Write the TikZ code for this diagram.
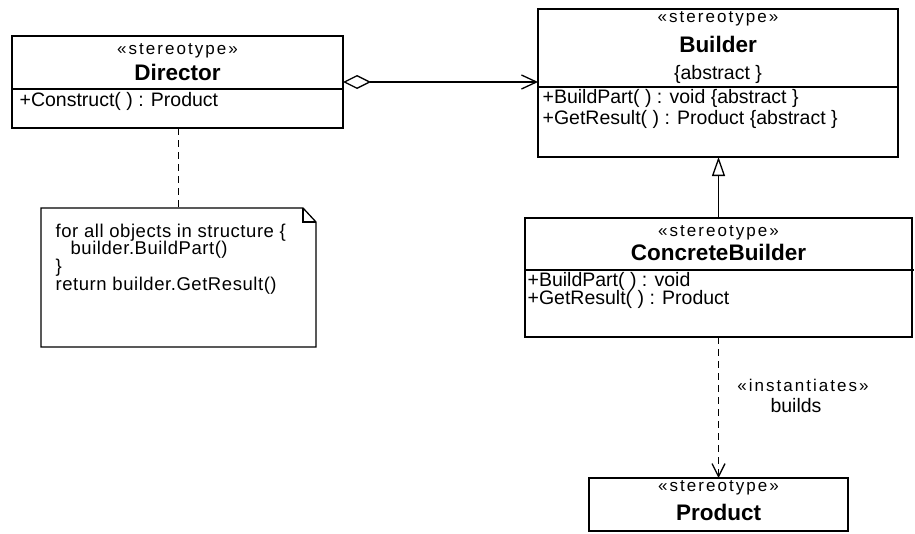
\documentclass[tikz,border=0pt]{standalone}
\usepackage{fontspec}
\setmainfont{Liberation Sans}
\usetikzlibrary{arrows.meta}
\begin{document}
\begin{tikzpicture}[x=1pt,y=-1pt,
  line width=1.3pt,
  box/.style={draw, anchor=north west, inner sep=0, outer sep=0},
  area/.style={draw=none, anchor=north west, inner sep=0, outer sep=0},
  stereo/.style={inner sep=0, text height=12pt, text depth=3pt,
    font=\fontsize{17}{18}\selectfont\addfontfeature{LetterSpace=12}},
  cname/.style={inner sep=0, text height=15pt, text depth=1pt,
    font=\fontsize{22.5}{24}\selectfont\bfseries},
  member/.style={inner sep=0, anchor=west, text height=13pt, text depth=3pt,
    font=\fontsize{19.5}{21}\selectfont},
  notetext/.style={member, font=\fontsize{18.5}{20}\selectfont\addfontfeature{LetterSpace=3}},
  plain/.style={member, anchor=center},
  depline/.style={dash pattern=on 7pt off 5pt},
  barb/.style={-{Straight Barb[length=13pt,width=13pt]}},
]
\path[use as bounding box] (0,0) rectangle (915,533);

% class boxes
\node[box, minimum width=331, minimum height=92] (director) at (12,36) {};
\node[box, minimum width=360, minimum height=148] (builder) at (538,9) {};
\node[box, minimum width=387, minimum height=119] (cbuilder) at (525,218) {};
\node[box, minimum width=259, minimum height=53] (product) at (589,478) {};

% compartment dividers
\draw (director.west |- 0,89) -- (director.east |- 0,89);
\draw (builder.west |- 0,87) -- (builder.east |- 0,87);
\draw (cbuilder.west |- 0,270) -- ([xshift=2pt]cbuilder.east |- 0,270);

% note with folded corner
\node[area, minimum width=275, minimum height=139] (note) at (41,208) {};
\draw (note.north west) -- ([xshift=-13pt]note.north east)
      -- ([yshift=-14pt]note.north east) -- (note.south east)
      -- (note.south west) -- cycle;
\draw ([xshift=-13pt]note.north east) -- ([xshift=-13pt,yshift=-14pt]note.north east)
      -- ([yshift=-14pt]note.north east);

% Director
\node[stereo] (dir-st) at (177.5,50) {«stereotype»};
\node[cname] (dir-name) at (177.5,73) {Director};
\node[member] (dir-op) at (19,101) {+Construct( ) : Product};

% Builder
\node[stereo] (bld-st) at (718,18) {«stereotype»};
\node[cname] (bld-name) at (718,45) {Builder};
\node[plain] (bld-abs) at (718,74) {\{abstract \}};
\node[member] (bld-op1) at (542,98) {+BuildPart( ) : void \{abstract \}};
\node[member] (bld-op2) at (542,119) {+GetResult( ) : Product \{abstract \}};

% ConcreteBuilder
\node[stereo] (cb-st) at (718.5,232) {«stereotype»};
\node[cname] (cb-name) at (718.5,253) {ConcreteBuilder};
\node[member] (cb-op1) at (527,281) {+BuildPart( ) : void};
\node[member] (cb-op2) at (527,299) {+GetResult( ) : Product};

% Product
\node[stereo] (prd-st) at (718.5,487) {«stereotype»};
\node[cname] (prd-name) at (718.5,513) {Product};

% note text
\node[notetext] (n1) at (55,232) {for all objects in structure \{};
\node[notetext] (n2) at (70,249.7) {builder.BuildPart()};
\node[notetext] (n3) at (55,267.4) {\}};
\node[notetext] (n4) at (55,285.1) {return builder.GetResult()};

% dependency labels
\node[stereo] (dep-st) at (803,387) {«instantiates»};
\node[plain] (dep-lbl) at (796,407) {builds};

% connectors
\draw[{Diamond[open,length=28pt,width=14pt]}-{Straight Barb[length=15pt,width=14pt]}]
  (director.east) -- (builder.west |- director.east);
\draw[depline] (director.south -| note.north) -- (note.north);
\draw[-{Triangle[open,length=19pt,width=13pt]}] (cbuilder.north) -- (cbuilder.north |- builder.south);
\draw[depline, barb] (cbuilder.south) -- (product.north);
\end{tikzpicture}
\end{document}
